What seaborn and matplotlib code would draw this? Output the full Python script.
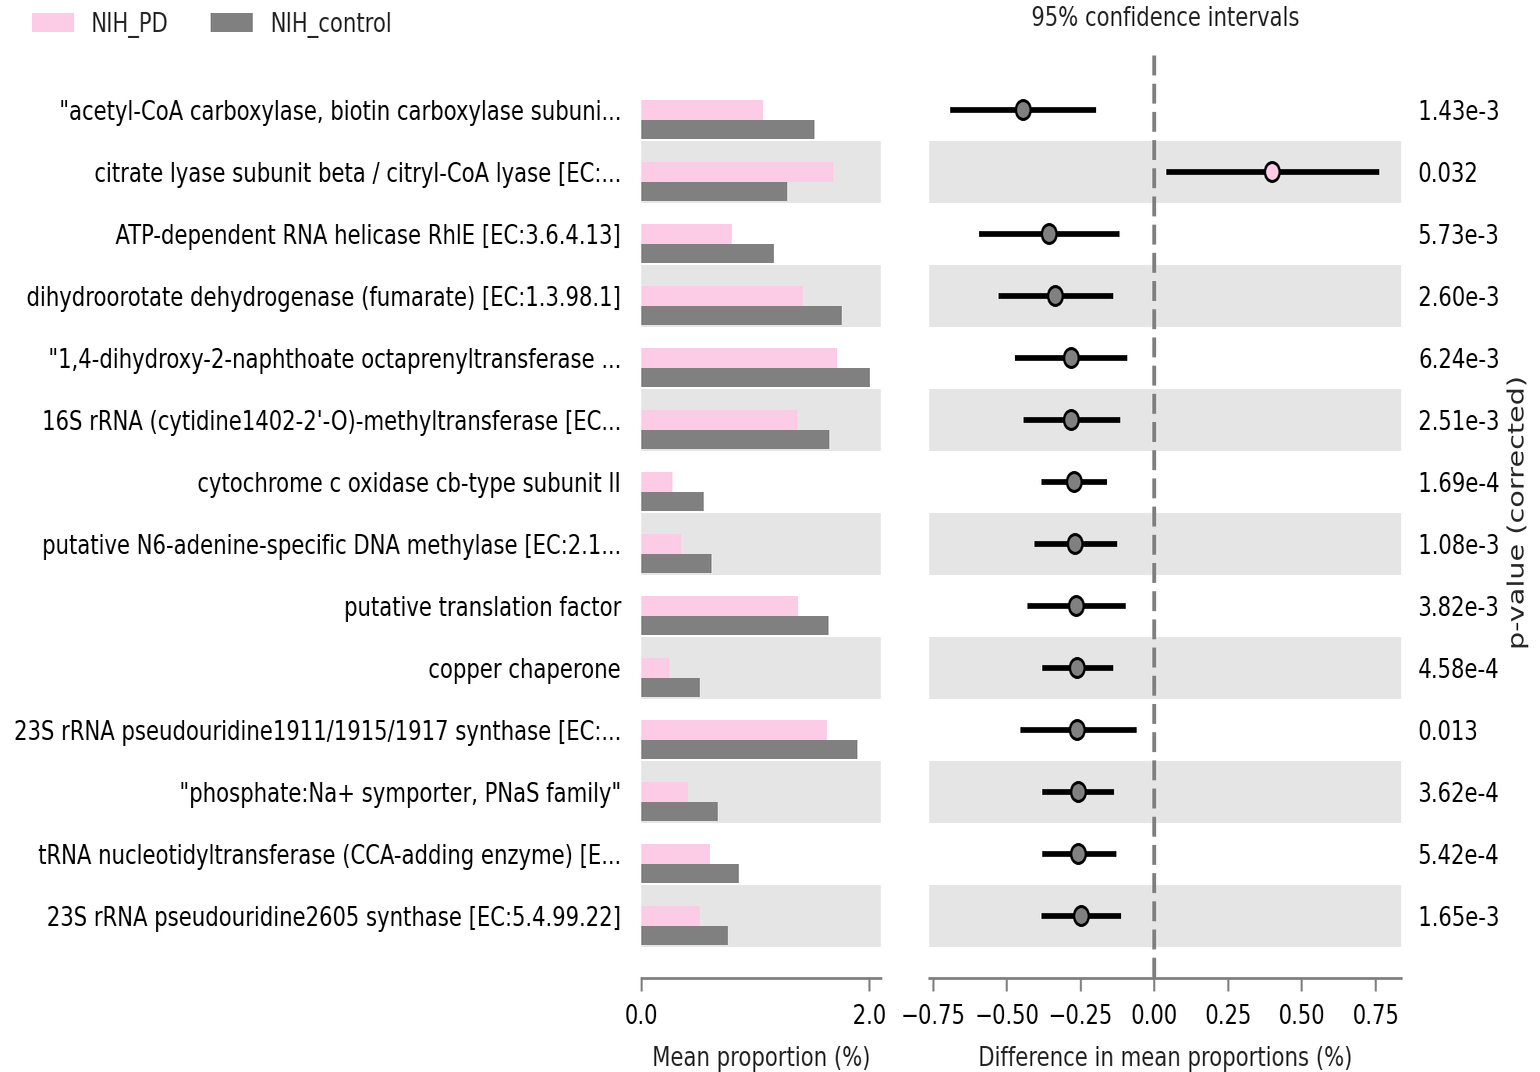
import numpy as np
import pandas as pd
import matplotlib
matplotlib.use("Agg")
import matplotlib.pyplot as plt
from matplotlib.patches import Patch
import seaborn as sns
from PIL import Image

# ---- data -----------------------------------------------------------------
features = [
    '"acetyl-CoA carboxylase, biotin carboxylase subuni...',
    'citrate lyase subunit beta / citryl-CoA lyase [EC:...',
    'ATP-dependent RNA helicase RhlE [EC:3.6.4.13]',
    'dihydroorotate dehydrogenase (fumarate) [EC:1.3.98.1]',
    '"1,4-dihydroxy-2-naphthoate octaprenyltransferase ...',
    "16S rRNA (cytidine1402-2'-O)-methyltransferase [EC...",
    'cytochrome c oxidase cb-type subunit II',
    'putative N6-adenine-specific DNA methylase [EC:2.1...',
    'putative translation factor',
    'copper chaperone',
    '23S rRNA pseudouridine1911/1915/1917 synthase [EC:...',
    '"phosphate:Na+ symporter, PNaS family"',
    'tRNA nucleotidyltransferase (CCA-adding enzyme) [E...',
    '23S rRNA pseudouridine2605 synthase [EC:5.4.99.22]',
]
groups = ["NIH_PD", "NIH_control"]
pd_mean = [1.069, 1.684, 0.796, 1.420, 1.719, 1.367, 0.278,
           0.348, 1.376, 0.251, 1.631, 0.409, 0.603, 0.515]
control_mean = [1.517, 1.279, 1.165, 1.763, 2.009, 1.648, 0.550,
                0.620, 1.640, 0.515, 1.894, 0.673, 0.858, 0.761]
diff = [-0.443, 0.401, -0.355, -0.334, -0.280, -0.280, -0.270,
        -0.267, -0.263, -0.260, -0.260, -0.256, -0.256, -0.246]
ci_low = [-0.690, 0.042, -0.592, -0.527, -0.470, -0.443, -0.382,
          -0.405, -0.429, -0.378, -0.453, -0.378, -0.378, -0.382]
ci_high = [-0.195, 0.763, -0.117, -0.138, -0.090, -0.114, -0.158,
           -0.124, -0.097, -0.138, -0.060, -0.135, -0.128, -0.111]
p_values = ["1.43e-3", "0.032", "5.73e-3", "2.60e-3", "6.24e-3", "2.51e-3",
            "1.69e-4", "1.08e-3", "3.82e-3", "4.58e-4", "0.013", "3.62e-4",
            "5.42e-4", "1.65e-3"]

# ---- style ----------------------------------------------------------------
PINK = "#fccbe6"
GRAY = "#808080"
BAND = "#e5e5e5"
FS = 19.5

sns.set_theme(style="white")
plt.rcParams["font.family"] = ["DejaVu Sans"]
plt.rcParams["font.size"] = FS

OUT_W, OUT_H = 1540, 1072
SQUEEZE = 0.78  # canvas is drawn wider, then resampled to the final width
fig = plt.figure(figsize=(OUT_W / SQUEEZE / 100, OUT_H / 100), dpi=100)


def frac_x(px):
    return px / OUT_W


def frac_y(px):
    return 1 - px / OUT_H


n = len(features)
ax_top, ax_bot = 55, 978
ax_bar = fig.add_axes([frac_x(641), frac_y(ax_bot), frac_x(881 - 641),
                       (ax_bot - ax_top) / OUT_H])
ax_ci = fig.add_axes([frac_x(929), frac_y(ax_bot), frac_x(1401 - 929),
                      (ax_bot - ax_top) / OUT_H])
ylims = (n, -0.887)

# ---- mean proportion bars -------------------------------------------------
df_bar = pd.DataFrame({
    "feature": features * 2,
    "group": [groups[0]] * n + [groups[1]] * n,
    "mean": pd_mean + control_mean,
})
sns.barplot(data=df_bar, x="mean", y="feature", hue="group", order=features,
            hue_order=groups, palette=[PINK, GRAY], orient="h", width=0.62,
            dodge=True, saturation=1, linewidth=0, legend=False, ax=ax_bar)
for cont in ax_bar.containers:
    for bar in cont:
        bar.set_y(bar.get_y() + 0.155)
        bar.set_zorder(2)

# ---- confidence intervals -------------------------------------------------
df_ci = pd.DataFrame({
    "feature": features,
    "diff": diff,
    "group": [groups[0] if d > 0 else groups[1] for d in diff],
})
ax_ci.hlines(np.arange(n), ci_low, ci_high, color="black", lw=4.1, zorder=3)
sns.scatterplot(data=df_ci, x="diff", y="feature", hue="group",
                palette={groups[0]: PINK, groups[1]: GRAY}, s=185,
                edgecolor="black", linewidth=2.2, zorder=4, legend=False,
                ax=ax_ci)
ax_ci.axvline(0, ymin=1, ymax=0, color=GRAY, lw=3.5, dashes=(4.1, 1.7),
              zorder=1)

# alternating row bands
for ax in (ax_bar, ax_ci):
    for i in range(1, n, 2):
        ax.axhspan(i - 0.5, i + 0.5, color=BAND, lw=0, zorder=0)
    ax.set_ylim(*ylims)
    for side in ("top", "right", "left"):
        ax.spines[side].set_visible(False)
    ax.spines["bottom"].set_color(GRAY)
    ax.spines["bottom"].set_linewidth(2)
    ax.tick_params(axis="x", bottom=True, length=9.5, width=1.85,
                   color=GRAY, labelsize=FS, pad=9, labelcolor="black")

ax_bar.set_xlim(0, 2.105)
ax_bar.set_xticks([0.0, 2.0])
ax_bar.set_xticklabels(["0.0", "2.0"])
ax_bar.set_xlabel("Mean proportion (%)", fontsize=FS, labelpad=11.5)
ax_bar.set_ylabel("")
ax_bar.tick_params(axis="y", left=False, length=0, pad=18.5,
                   labelsize=FS, labelcolor="black")

ax_ci.set_xlim(-0.762, 0.838)
ax_ci.set_xticks([-0.75, -0.5, -0.25, 0.0, 0.25, 0.5, 0.75])
ax_ci.set_xlabel("Difference in mean proportions (%)", fontsize=FS,
                 labelpad=11.5)
ax_ci.set_ylabel("")
ax_ci.set_yticks(np.arange(n))
ax_ci.set_yticklabels(p_values)
ax_ci.tick_params(axis="y", left=False, right=False, labelleft=False,
                  labelright=True, length=0, pad=15.5, labelsize=FS,
                  labelcolor="black")
ax_ci.set_ylim(*ylims)
ax_ci.set_title("95% confidence intervals", fontsize=FS, pad=21)

fig.text(frac_x(1518), frac_y(512.5), "p-value (corrected)", rotation=90,
         ha="center", va="center", fontsize=20.6)

handles = [Patch(facecolor=PINK, edgecolor="none"),
           Patch(facecolor=GRAY, edgecolor="none")]
fig.legend(handles, groups, loc="upper left",
           bbox_to_anchor=(frac_x(32), frac_y(12)), ncol=2, frameon=False,
           handlelength=2.0, handleheight=0.7, handletextpad=0.8,
           columnspacing=2.0, borderpad=0, borderaxespad=0, fontsize=FS)

fig.savefig("out.png", dpi=100)
Image.open("out.png").resize((OUT_W, OUT_H), Image.LANCZOS).save("out.png")
